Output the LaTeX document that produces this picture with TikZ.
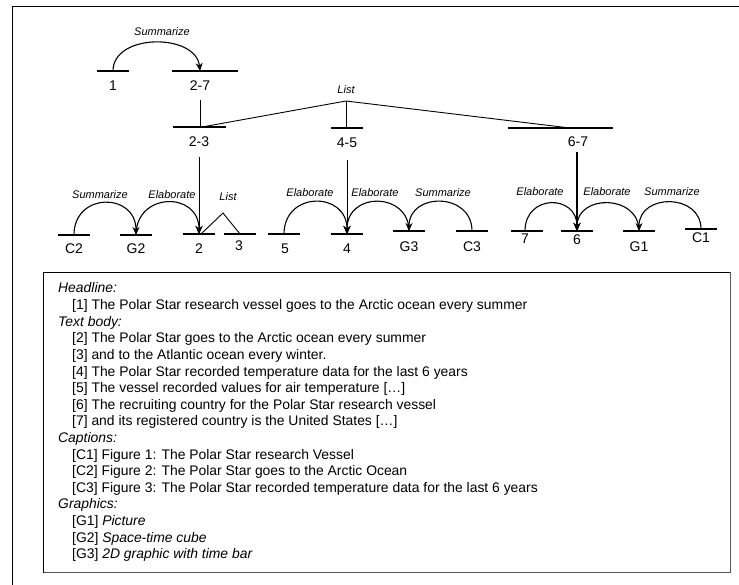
\documentclass[tikz,border=0pt]{standalone}
\usepackage{fontspec}
\setmainfont{Liberation Sans}
\usetikzlibrary{arrows.meta}
\begin{document}
\begin{tikzpicture}[x=1pt,y=-1pt,
  seg/.style={minimum width=#1, minimum height=0pt, inner sep=0pt, outer sep=0pt},
  barline/.style={line width=2pt},
  arcline/.style={line width=1.1pt, -{Stealth[length=8pt,width=7pt]}},
  thinline/.style={line width=0.9pt},
  vline/.style={line width=0.9pt, -{Stealth[length=8pt,width=7pt]}},
  nlbl/.style={font=\fontsize{14}{16}\selectfont, inner sep=0pt},
  albl/.style={font=\fontsize{11}{13}\selectfont\itshape, inner sep=0pt},
  txt/.style={font=\fontsize{13.9}{16.6}\selectfont, anchor=base west, inner sep=0pt},
]
\useasboundingbox (0,0) rectangle (739,585);
% outer frame
\draw[line width=1pt] (12,600) -- (12,7) -- (760,7);

% ---- tree segments ----
\node[seg=32] (s1) at (113,71) {};
\node[seg=66] (s27) at (205,71) {};
\node[seg=53] (s23) at (199,127) {};
\node[seg=32] (s45) at (347,128) {};
\node[seg=105] (s67) at (560.5,128) {};

\node[seg=32] (sC2) at (74,235) {};
\node[seg=32] (sG2) at (136,235) {};
\node[seg=32] (s2) at (199,234) {};
\node[seg=32] (s3) at (240,234) {};
\node[seg=32] (s5) at (284,234) {};
\node[seg=32] (s4) at (347,234) {};
\node[seg=32] (sG3) at (409,231) {};
\node[seg=32] (sC3) at (472,231) {};
\node[seg=32] (s7) at (527,231) {};
\node[seg=32] (s6) at (577,231) {};
\node[seg=32] (sG1) at (639,231) {};
\node[seg=32] (sC1) at (701,229) {};

\foreach \n in {s1,s27,s23,s45,s67,sC2,sG2,s2,s3,s5,s4,sG3,sC3,s7,s6,sG1,sC1}
  \draw[barline] (\n.west) -- (\n.east);

% ---- node labels ----
\node[nlbl] (l1) at (113,86) {1};
\node[nlbl] (l27) at (200,86) {2-7};
\node[nlbl] (l23) at (199,142) {2-3};
\node[nlbl] (l45) at (347,143) {4-5};
\node[nlbl] (l67) at (578,142) {6-7};
\node[nlbl] (lC2) at (74,249) {C2};
\node[nlbl] (lG2) at (136,249) {G2};
\node[nlbl] (l2) at (199,249) {2};
\node[nlbl] (l3) at (239,246) {3};
\node[nlbl] (l5) at (285,249) {5};
\node[nlbl] (l4) at (347,249) {4};
\node[nlbl] (lG3) at (409,247) {G3};
\node[nlbl] (lC3) at (472,247) {C3};
\node[nlbl] (l7) at (525,239) {7};
\node[nlbl] (l6) at (577,240) {6};
\node[nlbl] (lG1) at (639,247) {G1};
\node[nlbl] (lC1) at (701,238) {C1};

% ---- relation labels ----
\node[albl] (r1) at (162,32) {Summarize};
\node[albl] (rL1) at (346,90) {List};
\node[albl] (r2) at (100,195) {Summarize};
\node[albl] (r3) at (172,195) {Elaborate};
\node[albl] (rL2) at (228,197) {List};
\node[albl] (r4) at (310,193) {Elaborate};
\node[albl] (r5) at (375,193) {Elaborate};
\node[albl] (r6) at (443,193) {Summarize};
\node[albl] (r7) at (540,192) {Elaborate};
\node[albl] (r8) at (607,192) {Elaborate};
\node[albl] (r9) at (672,192) {Summarize};

% ---- connectors ----
\draw[arcline] (s1.center) .. controls +(0,-38) and +(-4,-38) .. ([xshift=-5pt]s27.center);
\draw[thinline, shorten <=14pt] (l27.center) -- (l27.center |- s23.center);

\coordinate (apex) at (346,101);
\draw[thinline] ([xshift=3pt]s23.center) -- (apex) -- ([xshift=9.5pt]s67.center);
\draw[thinline] (apex) -- (apex |- s45.center);

\draw[vline, shorten <=15pt] (l23.center) -- (s2.center);
\draw[vline, shorten <=17pt] (l45.center) -- (s4.center);
\draw[vline, line width=1.8pt, shorten <=10pt] (l67.center -| s6.center) -- (s6.center);

\draw[arcline] (sC2.center) .. controls +(0,-43) and +(0,-43) .. (sG2.center);
\draw[arcline] (sG2.center) .. controls +(0,-43) and +(0,-43) .. (s2.center);
\coordinate (apex2) at (223,213);
\draw[thinline] ([xshift=2pt]s2.center) -- (apex2) -- (s3.center);

\draw[arcline] (s5.center) .. controls +(0,-43) and +(0,-43) .. (s4.center);
\draw[arcline] (sG3.center) .. controls +(0,-39) and +(0,-43) .. (s4.center);
\draw[arcline] (sC3.center) .. controls +(0,-39) and +(0,-39) .. (sG3.center);

\draw[arcline] ([xshift=-2pt]s7.center) .. controls +(0,-37) and +(0,-37) .. (s6.center);
\draw[arcline] (sG1.center) .. controls +(0,-37) and +(0,-37) .. (s6.center);
\draw[arcline] (sC1.center) .. controls +(0,-36) and +(0,-38) .. (sG1.center);

% ---- legend box ----
\draw[line width=0.8pt] (43,272) rectangle (730,572);
\draw[line width=1.5pt, black!65] (43.5,572.5) -- (730.5,572.5) -- (730.5,272);

\node[txt] (t0) at (58,293) {\itshape Headline:};
\node[txt] (t1) at (72,309.6) {[1] The Polar Star research vessel goes to the Arctic ocean every summer};
\node[txt] (t2) at (58,326.2) {\itshape Text body:};
\node[txt] (t3) at (72,342.8) {[2] The Polar Star goes to the Arctic ocean every summer};
\node[txt] (t4) at (72,359.4) {[3] and to the Atlantic ocean every winter.};
\node[txt] (t5) at (72,376) {[4] The Polar Star recorded temperature data for the last 6 years};
\node[txt] (t6) at (72,392.6) {[5] The vessel recorded values for air temperature […]};
\node[txt] (t7) at (72,409.2) {[6] The recruiting country for the Polar Star research vessel};
\node[txt] (t8) at (72,425.8) {[7] and its registered country is the United States […]};
\node[txt] (t9) at (58,442.4) {\itshape Captions:};
\node[txt] (t10) at (72,459) {[C1] Figure 1: The Polar Star research Vessel};
\node[txt] (t11) at (72,475.6) {[C2] Figure 2: The Polar Star goes to the Arctic Ocean};
\node[txt] (t12) at (72,492.2) {[C3] Figure 3: The Polar Star recorded temperature data for the last 6 years};
\node[txt] (t13) at (58,508.8) {\itshape Graphics:};
\node[txt] (t14) at (72,525.4) {[G1] \textit{Picture}};
\node[txt] (t15) at (72,542) {[G2] \textit{Space-time cube}};
\node[txt] (t16) at (72,558.6) {[G3] \textit{2D graphic with time bar}};
\end{tikzpicture}
\end{document}
